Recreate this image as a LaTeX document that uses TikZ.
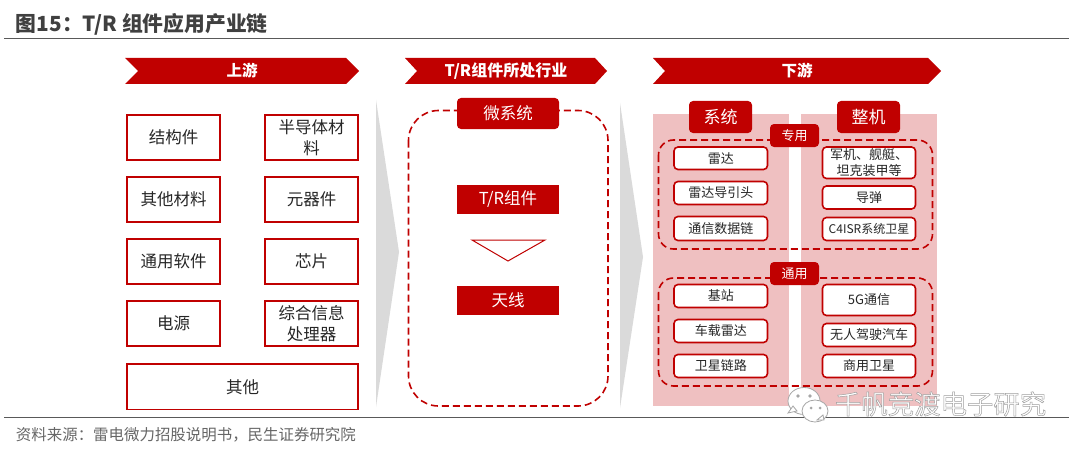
\documentclass[tikz,border=0pt]{standalone}
\usepackage{fontspec}
\setmainfont{Noto Sans CJK SC}
\definecolor{brand}{HTML}{C00000}
\definecolor{pinkbg}{HTML}{EFC0C1}
\definecolor{graybar}{HTML}{DADADA}
\definecolor{ink}{HTML}{262626}
\newcommand{\fsz}[1]{\fontsize{#1}{\the\dimexpr#1pt*5/4\relax}\selectfont}
\newcommand{\pbox}[7]{%
  \pgfmathsetmacro{\cxx}{(#3+#5)/2}\pgfmathsetmacro{\cyy}{(#4+#6)/2}%
  \pgfmathsetmacro{\www}{#5-#3}\pgfmathsetmacro{\hhh}{#6-#4}%
  \node[#2,minimum width=\www pt,minimum height=\hhh pt] (#1) at (\cxx,\cyy) {#7};}
\tikzset{
  x=1pt,y=-1pt,
  every node/.style={inner sep=0pt,outer sep=0pt,align=center},
  upbox/.style={draw=brand,line width=1.7pt,fill=white,text=ink,font=\fsz{16.5}},
  solidred/.style={fill=brand,text=white,font=\fsz{16.5}},
  redround/.style={solidred,rounded corners=4pt},
  tagbox/.style={redround,font=\fsz{13}},
  innerbox/.style={draw=brand,line width=1.6pt,fill=white,text=ink,rounded corners=4pt,font=\fsz{13}},
  banner/.style={fill=brand},
  bannertext/.style={text=white,font=\fsz{15.5}\bfseries},
  arrowbar/.style={fill=graybar},
  dashbox/.style={draw=brand,line width=1.6pt,dash pattern=on 7pt off 4pt},
  rulel/.style={draw=black!65,line width=1pt},
}
\begin{document}
\begin{tikzpicture}
\useasboundingbox (0,0) rectangle (1080,452);
\fill[white] (0,0) rectangle (1080,452);
% title and rules
\node[anchor=west,text=black!75,font=\fsz{20.8}\bfseries] (title) at (16,24) {图15：T/R 组件应用产业链};
\coordinate (r1a) at (4,38.5); \coordinate (r1b) at (1069,38.5);
\coordinate (r2a) at (4,417); \coordinate (r2b) at (1069,417);
% pink panels
\fill[pinkbg] (653,114) rectangle (789,406);
\fill[pinkbg] (801,114) rectangle (937,406);
\draw[rulel] (r1a) -- (r1b);
\draw[rulel] (r2a) -- (r2b);
\node[anchor=west,text=black!60,font=\fsz{15.45}] (source) at (16,435) {资料来源：雷电微力招股说明书，民生证券研究院};
% banners
\fill[banner] (125,58) -- (346,58) -- (359,71) -- (346,84) -- (125,84) -- (138,71) -- cycle;
\fill[banner] (405,58) -- (595,58) -- (607,71) -- (595,84) -- (405,84) -- (417,71) -- cycle;
\fill[banner] (653,58) -- (928,58) -- (941,71) -- (928,84) -- (653,84) -- (665,71) -- cycle;
\node[bannertext] (b1) at (242,71) {上游};
\node[bannertext,font=\fsz{16}\bfseries] (b2) at (506,71) {T/R组件所处行业};
\node[bannertext] (b3) at (797,71) {下游};
% gray arrows
\fill[arrowbar] (376,100) -- (399,252) -- (376,407) -- cycle;
\fill[arrowbar] (620,103) -- (643,257) -- (620,408) -- cycle;
% upstream boxes
\pbox{u1}{upbox}{127}{115}{220}{160}{结构件}
\pbox{u2}{upbox}{265}{115}{358}{160}{半导体材\\料}
\pbox{u3}{upbox}{127}{177}{220}{222}{其他材料}
\pbox{u4}{upbox}{265}{177}{358}{222}{元器件}
\pbox{u5}{upbox}{127}{239}{220}{284}{通用软件}
\pbox{u6}{upbox}{265}{239}{358}{284}{芯片}
\pbox{u7}{upbox}{127}{301}{220}{346}{电源}
\pbox{u8}{upbox}{265}{301}{358}{346}{综合信息\\处理器}
\pbox{u9}{upbox}{127}{364}{358}{409.5}{其他}
% middle
\draw[dashbox,rounded corners=30pt] (408.5,110.5) rectangle (608,406);
\pbox{m1}{redround}{457}{98}{559}{129}{微系统}
\pbox{m2}{solidred}{457}{185}{559}{214}{T/R组件}
\fill[white,draw=brand,line width=1pt] (472,240) -- (545,240) -- (508,261) -- cycle;
\pbox{m3}{solidred}{457}{286}{559}{315}{天线}
% downstream
\draw[dashbox,rounded corners=15pt] (658.5,140) rectangle (932.5,249);
\draw[dashbox,rounded corners=15pt] (658.5,278) rectangle (932.5,386);
\pbox{d1}{redround,font=\fsz{17}}{689}{101}{752}{133}{系统}
\pbox{d2}{redround,font=\fsz{17}}{837}{101}{900}{133}{整机}
\pbox{t1}{tagbox}{770}{124}{819}{147}{专用}
\pbox{t2}{tagbox}{770}{262}{819}{285}{通用}
\pbox{a1}{innerbox}{674}{147}{767.5}{169.5}{雷达}
\pbox{a2}{innerbox}{674}{181.5}{767.5}{204.5}{雷达导引头}
\pbox{a3}{innerbox}{674}{216.5}{767.5}{240.5}{通信数据链}
\pbox{a4}{innerbox}{822.5}{147}{915.5}{178.5}{军机、舰艇、\\坦克装甲等}
\pbox{a5}{innerbox}{822.5}{186}{915.5}{209}{导弹}
\pbox{a6}{innerbox,font=\fsz{12}}{822.5}{217.5}{915.5}{240.5}{C4ISR系统卫星}
\pbox{c1}{innerbox}{674}{284.5}{767.5}{307.5}{基站}
\pbox{c2}{innerbox}{674}{319.5}{767.5}{342.5}{车载雷达}
\pbox{c3}{innerbox}{674}{354.5}{767.5}{377.5}{卫星链路}
\pbox{c4}{innerbox}{822.5}{284.5}{915.5}{315.5}{5G通信}
\pbox{c5}{innerbox}{822.5}{323.5}{915.5}{346.5}{无人驾驶汽车}
\pbox{c6}{innerbox}{822.5}{354.5}{915.5}{377.5}{商用卫星}
% watermark
\begin{scope}[draw=black!35,line width=0.8pt,fill=white]
\filldraw (804,401) ellipse (16 and 13.5);
\filldraw (788,413) -- (793,406) -- (797,411) -- cycle;
\filldraw (815,411) ellipse (13 and 11);
\filldraw (824,420) -- (823,415) -- (817,420) -- cycle;
\fill[black!35] (798,396) circle (1.8) (810,396) circle (1.8) (811,408) circle (1.5) (820,408) circle (1.5);
\end{scope}
\node[anchor=west,font=\fsz{26.4}] (wm) at (835,404) {\special{pdf:literal direct q 2 Tr 0.5 w 0.62 G 1 g}千帆竞渡电子研究\special{pdf:literal direct Q}};
\end{tikzpicture}
\end{document}
